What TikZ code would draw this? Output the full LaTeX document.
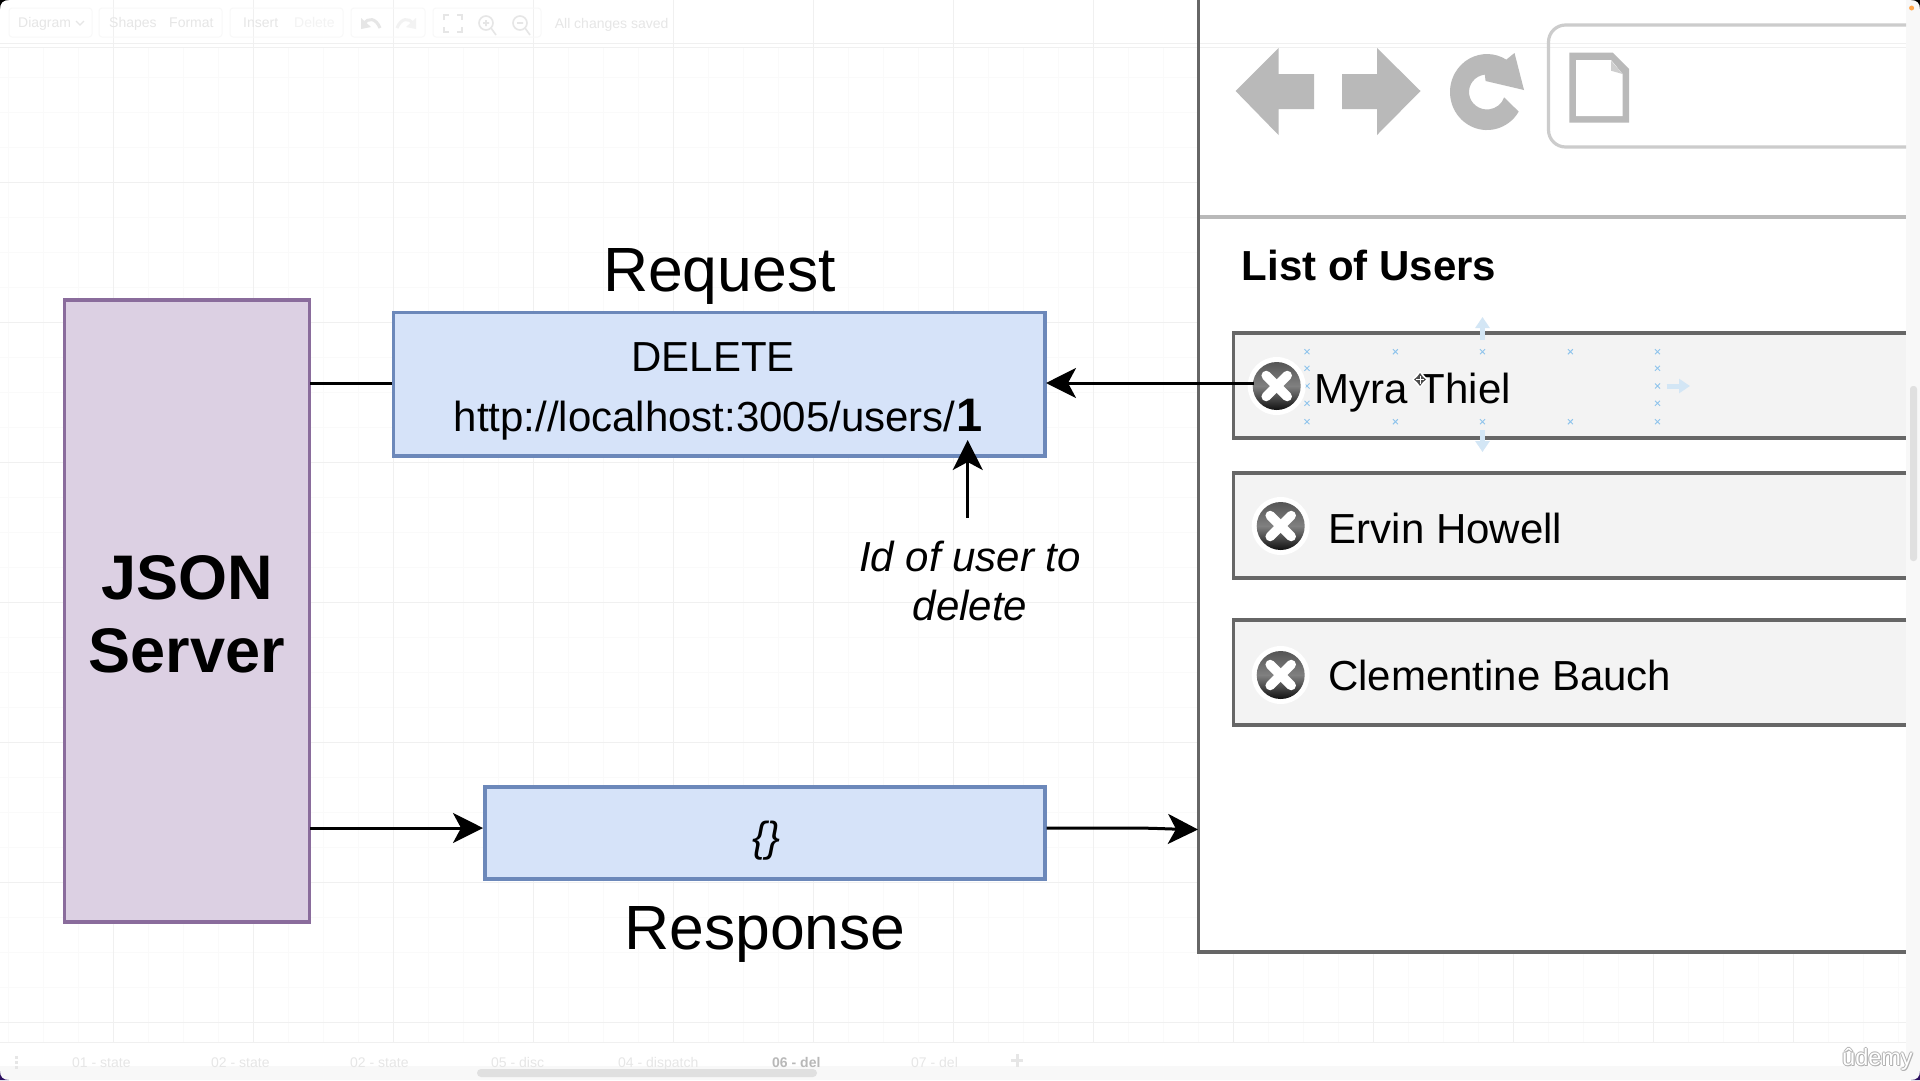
\documentclass[tikz,border=0pt]{standalone}
\usepackage{fontspec}
\setmainfont{Liberation Sans}
\usetikzlibrary{arrows.meta,calc}
\definecolor{minorgrid}{HTML}{FAFAFA}
\definecolor{majorgrid}{HTML}{F0F0F0}
\definecolor{uitext}{HTML}{E6E6E6}
\definecolor{uibox}{HTML}{F8F8F8}
\definecolor{strip}{HTML}{F8F8F8}
\definecolor{wire}{HTML}{666666}
\definecolor{chrome}{HTML}{B9B9B9}
\definecolor{bluefill}{HTML}{D6E3F9}
\definecolor{bluedraw}{HTML}{6C88BA}
\definecolor{purplefill}{HTML}{DCD0E3}
\definecolor{purpledraw}{HTML}{8A6C9C}
\definecolor{rowfill}{HTML}{F3F3F3}
\definecolor{handle}{HTML}{8FC4EC}
\definecolor{handlearrow}{HTML}{D3E6F5}
\definecolor{corner}{HTML}{2B1060}
\definecolor{discTop}{HTML}{555555}
\definecolor{discMid}{HTML}{808080}
\definecolor{discBot}{HTML}{111111}
\tikzset{
  x=1pt,y=-1pt,
  diagbox/.style={draw,line width=3.5pt,inner sep=0pt,anchor=north west},
  bluebox/.style={diagbox,fill=bluefill,draw=bluedraw},
  purplebox/.style={diagbox,fill=purplefill,draw=purpledraw},
  rowbox/.style={draw=wire,line width=3.5pt,fill=rowfill},
  big/.style={inner sep=0pt,anchor=base,font=\fontsize{62.5}{70}\selectfont},
  bigbold/.style={inner sep=0pt,anchor=base,font=\fontsize{63}{70}\selectfont\bfseries},
  body/.style={inner sep=0pt,anchor=base,font=\fontsize{42}{50}\selectfont},
  bodyw/.style={inner sep=0pt,anchor=base west,font=\fontsize{42}{50}\selectfont},
  uilabel/.style={inner sep=0pt,anchor=base west,text=uitext,font=\fontsize{14}{16}\selectfont},
  uibtn/.style={draw=uibox,line width=1pt,rounded corners=3pt},
  uiicon/.style={draw=uitext,line width=1.6pt},
  arrowline/.style={line width=3pt,-{Stealth[length=30pt,width=30pt,inset=8pt]}},
  plainline/.style={line width=3pt},
  icondisc/.style={circle,minimum size=48pt,inner sep=0pt,top color=discTop,bottom color=discBot,middle color=discMid,draw=none},
  iconcross/.style={draw=white,line width=9.5pt,line cap=round},
  handlemark/.style={draw=handle,line width=0.9pt},
  handlehint/.style={draw=handlearrow,line width=5pt,-{Triangle[length=11pt,width=14pt]}},
}
\newcommand{\usericon}[3]{%
  \fill[white] (#2,#3) circle[radius=29pt];
  \node[icondisc] (#1) at (#2,#3) {};
  \draw[iconcross] ($(#2,#3)+(-10.5,-10.5)$) -- ($(#2,#3)+(10.5,10.5)$);
  \draw[iconcross] ($(#2,#3)+(-10.5,10.5)$) -- ($(#2,#3)+(10.5,-10.5)$);
}
\begin{document}
\begin{tikzpicture}
\useasboundingbox (0,0) rectangle (1920,1080);
\fill[white] (0,0) rectangle (1920,1080);
% grid
\foreach \gx in {8,43,...,1907} \draw[minorgrid,line width=0.8pt] (\gx,47) -- (\gx,1066);
\foreach \gy in {77,112,...,1057} \draw[minorgrid,line width=0.8pt] (0,\gy) -- (1906,\gy);
\foreach \gx in {113,253,...,1800} \draw[majorgrid,line width=0.8pt] (\gx,0) -- (\gx,1066);
\foreach \gy in {182,322,...,1030} \draw[majorgrid,line width=0.8pt] (0,\gy) -- (1906,\gy);
% browser interior
\fill[white] (1199,0) rectangle (1906,951);
\draw[majorgrid,line width=0.8pt] (0,43) -- (1906,43);
\draw[majorgrid,line width=0.8pt] (0,47) -- (1906,47);
\draw[majorgrid,line width=0.8pt] (0,1042) -- (1906,1042);
% toolbar
\draw[uibtn] (9,8) rectangle (92,37);
\draw[uibtn] (99,8) rectangle (222,37);
\draw[uibtn] (230,8) rectangle (343,37);
\draw[uibtn] (351,8) rectangle (425,37);
\draw[uibtn] (433,8) rectangle (541,37);
\node[uilabel] (tbdiagram) at (18,27) {Diagram};
\draw[uiicon,line width=1.2pt] (76,21) -- (80,25) -- (84,21);
\node[uilabel] (tbshapes) at (109,27) {Shapes};
\node[uilabel] (tbformat) at (169,27) {Format};
\node[uilabel] (tbinsert) at (243,27) {Insert};
\node[uilabel,text=uitext!50] (tbdelete) at (294,27) {Delete};
\draw[uiicon,line width=3pt] (364,24) .. controls (368,17) and (376,18) .. (380,28);
\fill[uitext] (361,18) -- (361,29) -- (371,27) -- cycle;
\draw[uiicon,line width=3pt,draw=uitext!50] (413,24) .. controls (409,17) and (401,18) .. (397,28);
\fill[uitext!50] (416,18) -- (416,29) -- (406,27) -- cycle;
\draw[uiicon] (444,20) -- (444,15) -- (449,15) (457,15) -- (462,15) -- (462,20) (462,27) -- (462,32) -- (457,32) (449,32) -- (444,32) -- (444,27);
\draw[uiicon] (486,23) circle[radius=7pt] (491,28) -- (496,35) (483,23) -- (489,23) (486,20) -- (486,26);
\draw[uiicon] (520,23) circle[radius=7pt] (525,28) -- (530,35) (517,23) -- (523,23);
\node[uilabel] (tbsaved) at (554.6,28) {All changes saved};
% bottom tabs
\fill[white] (0,1042.5) rectangle (1906,1066);
\fill[strip] (0,1066) rectangle (1920,1080);
\foreach \tx/\tl in {72/01 - state,211/02 - state,350/02 - state,491/05 - disc,618/04 - dispatch,911/07 - del}
  \node[uilabel] at (\tx,1067) {\tl};
\node[uilabel,text=black!28,font=\fontsize{14}{16}\selectfont\bfseries] (tabcurrent) at (772,1067) {06 - del};
\draw[uiicon,line width=3pt] (1017,1054) -- (1017,1067) (1011,1060.5) -- (1023,1060.5);
\foreach \dy in {1057,1062,1067} \fill[uitext] (15,\dy-1.5) rectangle (18,\dy+1.5);
\fill[black!12,rounded corners=4pt] (477,1069) rectangle (817,1077);
% right strip
\fill[strip] (1906,0) rectangle (1920,1080);
\fill[black!12,rounded corners=3pt] (1910,386) rectangle (1917,561);
% browser chrome
\fill[chrome] (1235.6,91) -- (1278.5,48) -- (1278.5,74) -- (1314,74) -- (1314,109) -- (1278.5,109) -- (1278.5,135) -- cycle;
\fill[chrome] (1420.5,91) -- (1377,48) -- (1377,74) -- (1342,74) -- (1342,109) -- (1377,109) -- (1377,135) -- cycle;
\fill[chrome] (1518.7,111.6) arc[start angle=-31,end angle=-301.5,x radius=37pt,y radius=38pt]
  -- (1514.5,53) -- (1524,90) -- (1485.6,81) -- (1484.8,74.6)
  arc[start angle=-263,end angle=-18,x radius=18pt,y radius=17.5pt] -- cycle;
\draw[line width=3.2pt,draw=black!20,rounded corners=17pt] (1906,25) -- (1548.5,25) -- (1548.5,147) -- (1906,147);
\fill[chrome] (1569.4,52.7) -- (1612.7,52.7) -- (1629,69) -- (1629,122.7) -- (1569.4,122.7) -- cycle;
\fill[white] (1576,60) -- (1611,60) -- (1622.5,74) -- (1622.5,116) -- (1576,116) -- cycle;
\fill[chrome!70] (1611,60.7) -- (1622.5,74) -- (1611,70.7) -- cycle;
\draw[chrome,line width=3.5pt] (1198,217) -- (1906,217);
\draw[wire,line width=3.5pt] (1198.5,0) -- (1198.5,952) -- (1906,952);
\node[inner sep=0pt,anchor=base west,font=\fontsize{42}{50}\selectfont\bfseries] (listtitle) at (1241.5,280) {List of Users};
% rows
\draw[rowbox] (1906,333) -- (1233.5,333) -- (1233.5,438) -- (1906,438);
\draw[rowbox] (1906,473) -- (1233.5,473) -- (1233.5,578) -- (1906,578);
\draw[rowbox] (1906,620) -- (1233.5,620) -- (1233.5,725) -- (1906,725);
\fill[rowfill] (1235.5,335) rectangle (1906,436);
\fill[rowfill] (1235.5,475) rectangle (1906,576);
\fill[rowfill] (1235.5,622) rectangle (1906,723);
% handles
\foreach \hx in {1307,1395.4,1482.5,1570.4,1657.5} \foreach \hy in {351.7,421.7}
  \draw[handlemark] (\hx-2.5,\hy-2.5) -- (\hx+2.5,\hy+2.5) (\hx-2.5,\hy+2.5) -- (\hx+2.5,\hy-2.5);
\foreach \hx in {1307,1657.5} \foreach \hy in {368.3,386,403.3}
  \draw[handlemark] (\hx-2.5,\hy-2.5) -- (\hx+2.5,\hy+2.5) (\hx-2.5,\hy+2.5) -- (\hx+2.5,\hy-2.5);
\draw[handlehint] (1482.5,340) -- (1482.5,317);
\draw[handlehint] (1482.5,430) -- (1482.5,452);
\draw[handlehint] (1666.5,386) -- (1690,386);
% user rows content
\usericon{iconone}{1276.7}{386}
\usericon{icontwo}{1280.7}{526}
\usericon{iconthree}{1280.7}{675}
\node[bodyw] (nameone) at (1314.5,403) {Myra Thiel};
\node[bodyw] (nametwo) at (1328.7,543) {Ervin Howell};
\node[bodyw] (namethree) at (1328,690) {Clementine Bauch};
% cursor
\fill[white] (1420,371) -- (1428,379.5) -- (1420,388) -- (1412,379.5) -- cycle;
\fill[black!70] (1420,373) -- (1423,377) -- (1426,379.5) -- (1423,382) -- (1420,386) -- (1417,382) -- (1414,379.5) -- (1417,377) -- cycle;
\draw[white,line width=0.8pt] (1420,375.5) -- (1420,383.5) (1416,379.5) -- (1424,379.5);
% diagram boxes
\node[purplebox,minimum width=245pt,minimum height=622pt] (json) at (62.7,298.3) {};
\node[bluebox,minimum width=651.3pt,minimum height=143.3pt] (req) at (391.7,310.7) {};
\node[bluebox,minimum width=560pt,minimum height=92pt] (res) at (483,785) {};
\node[bigbold] (jsona) at (187,599) {JSON};
\node[bigbold] (jsonb) at (187,672) {Server};
\node[big] (reqtitle) at (719.5,291) {Request};
\node[big] (restitle) at (765,949) {Response};
\node[body] (deleteword) at (713,371.5) {DELETE};
\node[bodyw] (url) at (453.5,431) {http://localhost:3005/users/};
\node[inner sep=0pt,anchor=base west,font=\fontsize{47}{60}\selectfont\bfseries] (userid) at (url.base east) {1};
\node[body,font=\fontsize{42}{50}\selectfont\itshape] (braces) at (766.5,851) {\{\}};
\node[body,font=\fontsize{42}{50}\selectfont\itshape] (notea) at (970,571.5) {Id of user to};
\node[body,font=\fontsize{42}{50}\selectfont\itshape] (noteb) at (970,620) {delete};
% connectors
\coordinate (jsontop) at (310,383);
\coordinate (reqleft) at (392,383);
\coordinate (iconout) at (1254,383);
\coordinate (reqright) at (1046,383);
\coordinate (jsonout) at (310,828);
\coordinate (resin) at (res.west |- jsonout);
\coordinate (resout) at (res.east |- jsonout);
\coordinate (browserin) at (1198,829.5);
\coordinate (noteup) at (967.7,518);
\coordinate (notetip) at (967.7,440);
\draw[plainline] (jsontop) -- (reqleft);
\draw[arrowline] (iconout) -- (reqright);
\draw[arrowline] (jsonout) -- (resin);
\draw[arrowline] (resout) -- (1130,828) .. controls (1150,828) and (1170,829) .. (browserin);
\draw[arrowline] (noteup) -- (notetip);
% watermark
\foreach \ox/\oy in {-1/0,1/0,0/-1,0/1,1/1}
  \node[inner sep=0pt,anchor=base west,text=black!30,font=\fontsize{23.5}{26}\selectfont] at (1842+\ox,1065+\oy) {ûdemy};
\node[inner sep=0pt,anchor=base west,text=white,font=\fontsize{23.5}{26}\selectfont] (logo) at (1842,1065) {ûdemy};
% screen corners
\fill[black] (0,0) -- (9,0) .. controls (3,0) and (0,3) .. (0,9) -- cycle;
\fill[black] (1920,0) -- (1911,0) .. controls (1917,0) and (1920,3) .. (1920,9) -- cycle;
\fill[corner] (0,1080) -- (9,1080) .. controls (3,1080) and (0,1077) .. (0,1071) -- cycle;
\fill[corner] (1920,1080) -- (1911,1080) .. controls (1917,1080) and (1920,1077) .. (1920,1071) -- cycle;
\fill[orange!70] (1911.6,8) circle[radius=2.5pt];
\end{tikzpicture}
\end{document}
